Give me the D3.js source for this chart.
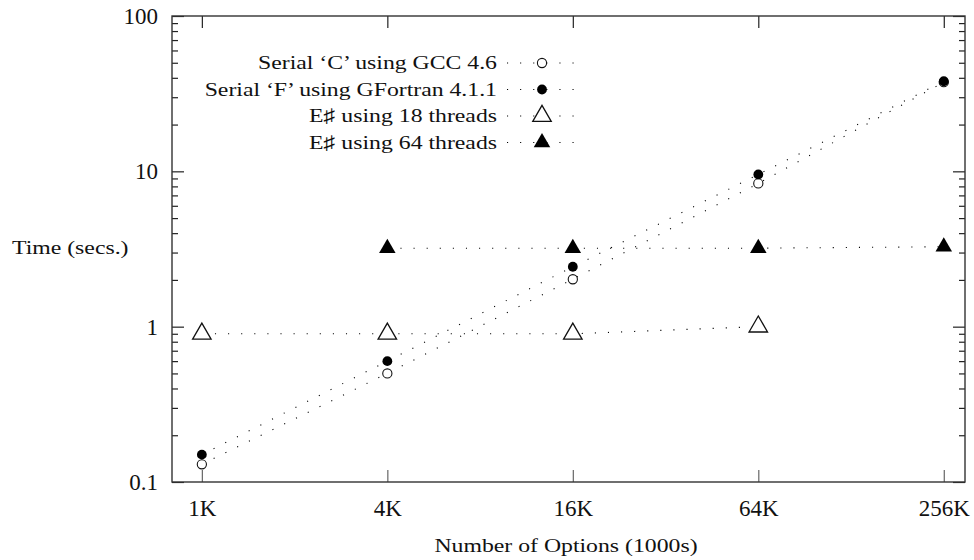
<!DOCTYPE html>
<html>
<head>
<meta charset="utf-8">
<script src="https://cdn.jsdelivr.net/npm/d3@7"></script>
<style>
  body { margin: 0; background: #fff; }
  text { font-family: "Liberation Serif", "Times New Roman", serif; fill: #111; }
</style>
</head>
<body>
<svg id="chart" width="974" height="560"></svg>
<script>
// data (time in secs, options in 1000s)
const options = [1, 4, 16, 64, 256];
const optionLabels = ["1K", "4K", "16K", "64K", "256K"];
const serialC = [0.13, 0.5, 2.02, 8.36, 37.5];
const serialF = [0.15, 0.6, 2.43, 9.55, 38];
const e18 = [0.9, 0.9, 0.9, 1.0, null];
const e64 = [null, 3.2, 3.2, 3.2, 3.27];
const yTicks = [0.1, 1, 10, 100];
const seriesNames = ["Serial \u2018C\u2019 using GCC 4.6", "Serial \u2018F\u2019 using GFortran 4.1.1",
  "E\u266F using 18 threads", "E\u266F using 64 threads"];

const margin = { top: 16, right: 9, bottom: 78, left: 172 },
  width = 974, height = 560,
  stretch = 1.25; // the text in the picture is drawn wider than it is tall

const svg = d3.select("#chart");

const x = d3.scaleLog().domain([0.8, 300]).range([margin.left, width - margin.right]);
const y = d3.scaleLog().domain([0.1, 100]).range([height - margin.bottom, margin.top]);

// minor ticks 2..9 in each decade
const minor = [];
yTicks.slice(0, -1).forEach(d => { for (let k = 2; k < 10; k++) minor.push(d * k); });

function styleAxis(g, color) {
  g.select(".domain").remove();
  g.selectAll(".tick line").attr("stroke", color).attr("stroke-width", 1.2);
  g.selectAll(".tick text").style("font-size", "23px").style("font-family", "'Liberation Serif', serif").attr("fill", "#111");
}

// y axes, left and right, ticks pointing in
svg.append("g").attr("transform", `translate(${margin.left},0)`)
  .call(d3.axisLeft(y).tickValues(yTicks).tickSize(-12).tickPadding(14).tickFormat(d3.format("~g")))
  .call(g => styleAxis(g, "#222"));
svg.append("g").attr("transform", `translate(${margin.left},0)`)
  .call(d3.axisLeft(y).tickValues(minor).tickSize(-6).tickFormat(""))
  .call(g => styleAxis(g, "#222"));
svg.append("g").attr("transform", `translate(${width - margin.right},0)`)
  .call(d3.axisRight(y).tickValues(yTicks).tickSize(-12).tickFormat(""))
  .call(g => styleAxis(g, "#222"));
svg.append("g").attr("transform", `translate(${width - margin.right},0)`)
  .call(d3.axisRight(y).tickValues(minor).tickSize(-6).tickFormat(""))
  .call(g => styleAxis(g, "#222"));

// x axes, bottom with labels, top plain
svg.append("g").attr("transform", `translate(0,${height - margin.bottom})`)
  .call(d3.axisBottom(x).tickValues(options).tickSize(-12).tickPadding(18)
    .tickFormat((d, i) => optionLabels[i]))
  .call(g => styleAxis(g, "#666"));
svg.append("g").attr("transform", `translate(0,${margin.top})`)
  .call(d3.axisTop(x).tickValues(options).tickSize(-12).tickFormat(""))
  .call(g => styleAxis(g, "#222"));

// frame
svg.append("rect")
  .attr("x", margin.left).attr("y", margin.top)
  .attr("width", width - margin.right - margin.left)
  .attr("height", height - margin.bottom - margin.top)
  .attr("fill", "none").attr("stroke", "#333").attr("stroke-width", 1.4);

// stretched text helper
function label(px, py, str, anchor) {
  svg.append("g").attr("transform", `translate(${px},${py})`)
    .append("text").attr("transform", `scale(${stretch},1)`)
    .attr("text-anchor", anchor).style("font-size", "19px").text(str);
}
label(12, 254, "Time (secs.)", "start");
label(566, 552, "Number of Options (1000s)", "middle");

// markers
const triOpen = d3.symbol(d3.symbolTriangle, 148);
const triFill = d3.symbol(d3.symbolTriangle, 118);
const markers = [
  g => g.append("circle").attr("r", 4.6).attr("fill", "#fff").attr("stroke", "#111").attr("stroke-width", 1.1),
  g => g.append("circle").attr("r", 4.9).attr("fill", "#000"),
  g => g.append("path").attr("d", triOpen).attr("fill", "#fff").attr("stroke", "#111").attr("stroke-width", 1.3),
  g => g.append("path").attr("d", triFill).attr("fill", "#000")
];
const allSeries = [serialC, serialF, e18, e64];

const line = d3.line()
  .defined(d => d.v != null)
  .x(d => x(d.o))
  .y(d => y(d.v));

// dotted lines first, markers on top
allSeries.forEach(vals => {
  const pts = options.map((o, i) => ({ o: o, v: vals[i] }));
  svg.append("path").datum(pts)
    .attr("d", line)
    .attr("fill", "none").attr("stroke", "#000").attr("stroke-width", 1.1)
    .attr("stroke-dasharray", "1.1,12");
});
allSeries.forEach((vals, s) => {
  options.forEach((o, i) => {
    if (vals[i] == null) return;
    const g = svg.append("g").attr("transform", `translate(${x(o)},${y(vals[i])})`);
    markers[s](g);
  });
});

// legend
const legend = svg.append("g");
seriesNames.forEach((name, s) => {
  const cy = 63 + s * 26.5;
  label(497, cy + 6, name, "end");
  legend.append("line")
    .attr("x1", 507).attr("x2", 580).attr("y1", cy).attr("y2", cy)
    .attr("stroke", "#000").attr("stroke-width", 1.1).attr("stroke-dasharray", "1.1,12");
  markers[s](legend.append("g").attr("transform", `translate(542,${cy})`));
});
</script>
</body>
</html>
